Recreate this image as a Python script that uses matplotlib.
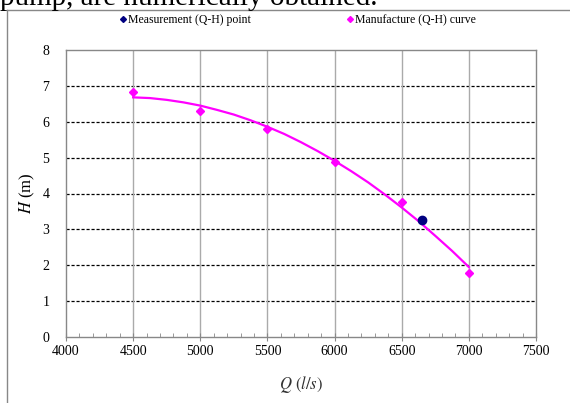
import numpy as np
import matplotlib
matplotlib.use('Agg')
import matplotlib.pyplot as plt
from matplotlib.lines import Line2D
from matplotlib.ticker import MultipleLocator

# Measurement (Q-H) point
q_meas = [6650]
h_meas = [3.25]

# Manufacture (Q-H) points
q_man = [4500, 5000, 5500, 6000, 6500, 7000]
h_man = [6.82, 6.30, 5.81, 4.88, 3.75, 1.78]

# trend curve
q_curve = [4500, 4625, 4750, 4875, 5000, 5125, 5250, 5375, 5500, 5625, 5750,
           5875, 6000, 6125, 6250, 6375, 6500, 6625, 6750, 6875, 7000]
h_curve = [6.68, 6.66, 6.61, 6.54, 6.45, 6.33, 6.20, 6.04, 5.86, 5.66, 5.43,
           5.18, 4.91, 4.62, 4.31, 3.97, 3.61, 3.23, 2.82, 2.40, 1.95]

x_ticks = [4000, 4500, 5000, 5500, 6000, 6500, 7000, 7500]
y_ticks = [0, 1, 2, 3, 4, 5, 6, 7, 8]

plt.rcParams['font.family'] = ['Liberation Serif', 'DejaVu Serif']
plt.rcParams['mathtext.fontset'] = 'stix'

fig = plt.figure(figsize=(5.7, 4.03), dpi=100)
ax = fig.add_axes([66/570, 1-337/403, 470/570, 287/403])

ax.plot(q_curve, h_curve, color='#ff00ff', lw=1.6, zorder=3)
ax.plot(q_man, h_man, 'D', color='#ff00ff', ms=4.5, zorder=4)
ax.plot(q_meas, h_meas, 'o', color='#000080', ms=6, zorder=5)

ax.set_xlim(4000, 7500)
ax.set_ylim(0, 8)
ax.set_xticks(x_ticks)
ax.set_yticks(y_ticks)
ax.xaxis.set_minor_locator(MultipleLocator(100))
ax.tick_params(axis='x', which='major', direction='inout', length=6,
               color='#888888', labelsize=10, pad=3)
ax.tick_params(axis='x', which='minor', direction='in', length=3, color='#888888')
ax.tick_params(axis='y', length=0, labelsize=10, pad=12)

for y in y_ticks[1:-1]:
    ax.axhline(y, color='black', lw=0.9, ls=(0, (2.5, 1.5)), zorder=1)
for x in x_ticks[1:-1]:
    ax.axvline(x, color='#aaaaaa', lw=1.0, zorder=1)

for s in ax.spines.values():
    s.set_color('#888888')
    s.set_linewidth(1.0)

ax.set_xlabel('$Q$ $(l/s)$', fontsize=12, labelpad=11, color='#333333')
ax.set_ylabel('$H$ (m)', fontsize=12, labelpad=4)

leg_h = [Line2D([], [], marker='D', color='#000080', ls='none', ms=3),
         Line2D([], [], marker='D', color='#ff00ff', ls='none', ms=3)]
fig.legend(leg_h, ['Measurement (Q-H) point', 'Manufacture (Q-H) curve'],
           loc='center', bbox_to_anchor=(0.522, 1-20/403), ncol=2,
           frameon=False, fontsize=8.5, handlelength=0.6, handletextpad=0.1,
           columnspacing=8.15)

# page border and cut-off text from the document
fig.add_artist(Line2D([7/570, 7/570], [0, 1-10/403], color='#888888', lw=1.0))
fig.add_artist(Line2D([7/570, 1], [1-10/403, 1-10/403], color='#888888', lw=1.0))
fig.text(0.0, 1-5/403, 'pump, are numerically obtained.', fontsize=21,
         va='baseline', ha='left')

fig.savefig('out.png', dpi=100)
